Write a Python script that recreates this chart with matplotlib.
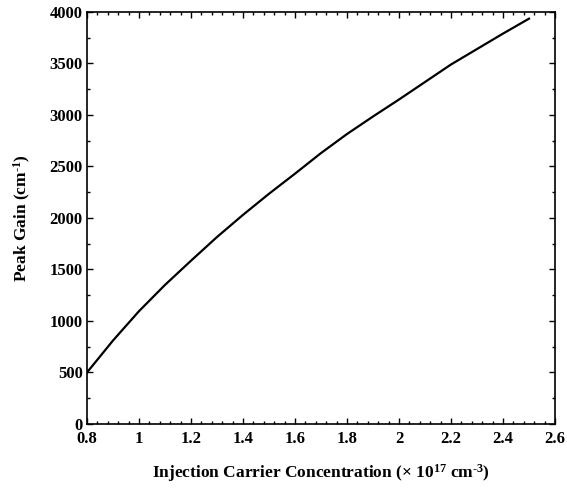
import matplotlib
matplotlib.use("Agg")
import matplotlib.pyplot as plt
from matplotlib.ticker import AutoMinorLocator

plt.rcParams["font.family"] = ["Liberation Serif", "DejaVu Serif"]
plt.rcParams["font.weight"] = "bold"
plt.rcParams["mathtext.fontset"] = "custom"
plt.rcParams["mathtext.rm"] = "Liberation Serif:bold"
plt.rcParams["mathtext.bf"] = "Liberation Serif:bold"
plt.rcParams["mathtext.it"] = "Liberation Serif:bold"

# injection carrier concentration (x 10^17 cm^-3) vs peak gain (cm^-1)
concentration = [0.8, 0.9, 1.0, 1.1, 1.2, 1.3, 1.4, 1.5, 1.6, 1.7,
                 1.8, 1.9, 2.0, 2.1, 2.2, 2.3, 2.4, 2.5]
peak_gain = [500, 810, 1095, 1350, 1585, 1815, 2030, 2235, 2430, 2630,
             2815, 2985, 3150, 3320, 3490, 3640, 3790, 3935]

x_ticks = [0.8, 1.0, 1.2, 1.4, 1.6, 1.8, 2.0, 2.2, 2.4, 2.6]
x_tick_labels = ["0.8", "1", "1.2", "1.4", "1.6", "1.8", "2", "2.2", "2.4", "2.6"]
y_ticks = [0, 500, 1000, 1500, 2000, 2500, 3000, 3500, 4000]

fig = plt.figure(figsize=(5.67, 4.91), dpi=100)
ax = fig.add_axes([0.1534, 0.1365, 0.8254, 0.8391])

ax.plot(concentration, peak_gain, color="black", linewidth=1.6)

ax.set_xlim(0.8, 2.6)
ax.set_ylim(0, 4000)
ax.set_xticks(x_ticks, x_tick_labels)
ax.set_yticks(y_ticks, [str(v) for v in y_ticks])
ax.xaxis.set_minor_locator(AutoMinorLocator(5))
ax.yaxis.set_minor_locator(AutoMinorLocator(2))

ax.tick_params(which="both", direction="in", top=True, right=True,
               labelsize=12, width=1)
ax.tick_params(which="major", length=4)
ax.tick_params(which="minor", length=2)
ax.tick_params(axis="x", which="major", pad=5)
ax.tick_params(axis="y", which="major", pad=3)
for spine in ax.spines.values():
    spine.set_linewidth(1.2)

ax.set_xlabel(r"Injection Carrier Concentration ($\times$ 10$^{17}$ cm$^{\text{-3}}$)",
              fontsize=12.5, fontweight="bold", labelpad=11)
ax.set_ylabel(r"Peak Gain (cm$^{\text{-1}}$)", fontsize=12.5, fontweight="bold", labelpad=12)

fig.savefig("out.png", dpi=100)
plt.close(fig)
